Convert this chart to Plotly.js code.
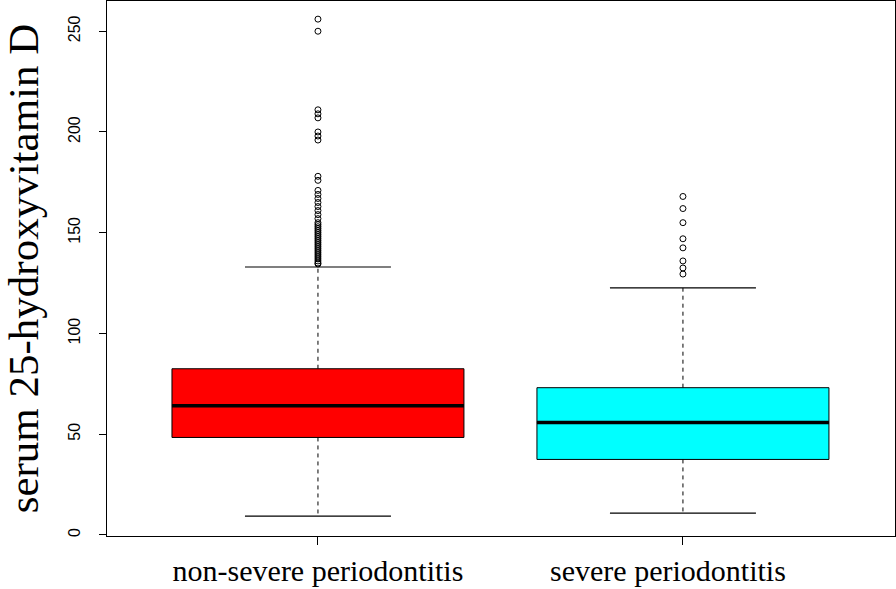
<!DOCTYPE html>
<html>
<head>
<meta charset="utf-8">
<script src="https://cdn.plot.ly/plotly-3.0.1.min.js"></script>
<style>
  html, body { margin: 0; padding: 0; background: #ffffff; }
  #chart { width: 896px; height: 589px; }
</style>
</head>
<body>
<div id="chart"></div>
<script>
// ---- data ----
const categories = ['non-severe periodontitis', 'severe periodontitis'];
const positions = [1, 2];
const q1Values = [48.4, 37.5];
const medianValues = [64.2, 55.8];
const q3Values = [82.5, 73.1];
const lowerWhiskers = [9.4, 10.9];
const upperWhiskers = [133.0, 122.6];
const outliersNonSevere = [256, 250, 211, 209, 207, 200, 198, 196, 178, 176, 171, 169, 167, 165, 163, 161, 159, 157, 155,
  154, 153, 152, 151, 150, 149, 148, 147, 146, 145, 144, 143, 142, 141, 140, 139, 138, 137, 136, 135, 134.5];
const outliersSevere = [168, 162, 155, 147, 142.5, 136, 132.5, 129.5];
const outlierSets = [outliersNonSevere, outliersSevere];
const boxColors = ['#ff0000', '#00ffff'];
const yTicks = [0, 50, 100, 150, 200, 250];

const BOX_W = 0.8;      // box width (data units)
const STAPLE_W = 0.4;   // whisker staple width (data units)
// the second label sits slightly left of its tick in the reference
const labelPad = ['', '\u00a0\u00a0\u00a0\u00a0'];

const traces = [];
categories.forEach((cat, i) => {
  const x = positions[i];
  traces.push({
    type: 'box',
    name: cat,
    x: [x],
    q1: [q1Values[i]],
    median: [medianValues[i]],
    q3: [q3Values[i]],
    lowerfence: [q1Values[i]],
    upperfence: [q3Values[i]],
    width: BOX_W,
    whiskerwidth: 0,
    fillcolor: boxColors[i],
    line: { color: '#000000', width: 1 },
    boxpoints: false,
    hoverinfo: 'skip'
  });
  traces.push({
    type: 'scatter', mode: 'lines', x: [x, x], y: [q3Values[i], upperWhiskers[i]],
    line: { color: '#000000', width: 1, dash: '4px,4px' }, hoverinfo: 'skip'
  });
  traces.push({
    type: 'scatter', mode: 'lines', x: [x, x], y: [q1Values[i], lowerWhiskers[i]],
    line: { color: '#000000', width: 1, dash: '4px,4px' }, hoverinfo: 'skip'
  });
  traces.push({
    type: 'scatter', mode: 'lines', x: [x - STAPLE_W / 2, x + STAPLE_W / 2], y: [upperWhiskers[i], upperWhiskers[i]],
    line: { color: '#000000', width: 1.2 }, hoverinfo: 'skip'
  });
  traces.push({
    type: 'scatter', mode: 'lines', x: [x - STAPLE_W / 2, x + STAPLE_W / 2], y: [lowerWhiskers[i], lowerWhiskers[i]],
    line: { color: '#000000', width: 1.2 }, hoverinfo: 'skip'
  });
  traces.push({
    type: 'scatter', mode: 'lines', x: [x - BOX_W / 2, x + BOX_W / 2], y: [medianValues[i], medianValues[i]],
    line: { color: '#000000', width: 3.5 }, hoverinfo: 'skip'
  });
  traces.push({
    type: 'scatter', mode: 'markers',
    x: outlierSets[i].map(() => x), y: outlierSets[i],
    marker: { symbol: 'circle-open', size: 6, color: '#000000', line: { width: 1, color: '#000000' } },
    hoverinfo: 'y'
  });
});

const layout = {
  width: 896, height: 589,
  margin: { l: 107, r: 1, t: 1, b: 53 },
  paper_bgcolor: '#ffffff', plot_bgcolor: '#ffffff',
  showlegend: false,
  xaxis: {
    range: [0.422, 2.581],
    tickvals: positions, ticktext: categories.map((c, i) => c + labelPad[i]),
    ticks: 'outside', ticklen: 8, tickcolor: '#000000', tickwidth: 1,
    showline: true, mirror: true, linecolor: '#000000', linewidth: 1,
    showgrid: false, zeroline: false,
    tickfont: { family: 'Liberation Serif, Times New Roman, serif', size: 30, color: '#000000' }
  },
  yaxis: {
    range: [-0.5, 265],
    tickvals: yTicks, ticktext: yTicks.map(String),
    ticks: 'outside', ticklen: 7, tickcolor: '#000000', tickwidth: 1,
    tickangle: -90, ticklabelstandoff: 13,
    showline: true, mirror: true, linecolor: '#000000', linewidth: 1,
    showgrid: false, zeroline: false,
    tickfont: { family: 'Liberation Sans, Arial, sans-serif', size: 16, color: '#000000' },
    title: {
      text: 'serum 25-hydroxyvitamin D',
      font: { family: 'Liberation Serif, Times New Roman, serif', size: 43, color: '#000000' },
      standoff: 16
    }
  }
};

Plotly.newPlot('chart', traces, layout, { staticPlot: true, displayModeBar: false });
</script>
</body>
</html>
